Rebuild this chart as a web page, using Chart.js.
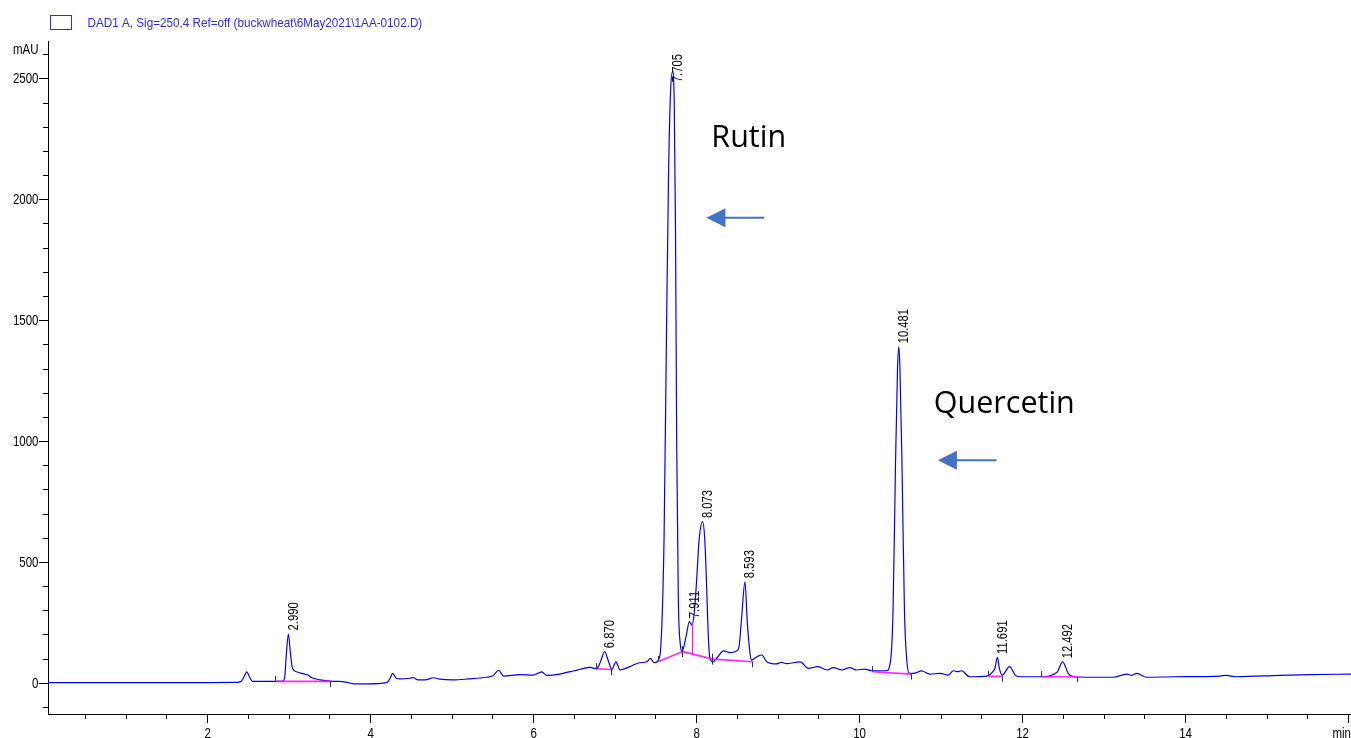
<!DOCTYPE html>
<html>
<head>
<meta charset="utf-8">
<script src="https://cdn.jsdelivr.net/npm/chart.js@4.4.0/dist/chart.umd.min.js"></script>
<style>
html,body{margin:0;padding:0;background:#fff;overflow:hidden}
#wrap{width:1351px;height:738px;position:relative}
</style>
</head>
<body>
<div id="wrap"><canvas id="c" width="1351" height="738"></canvas></div>
<script>
// ---- chromatogram trace (time in min, signal in mAU) ----
const times = [0.04,1.0,2.0,2.35,2.41,2.45,2.48,2.51,2.55,2.72,2.92,2.945,2.965,2.99,3.015,3.04,3.09,3.14,3.19,3.23,3.28,3.38,3.54,3.62,3.71,3.79,3.95,
  4.20,4.24,4.27,4.31,4.36,4.48,4.52,4.58,4.67,4.77,4.85,5.01,5.20,5.42,5.50,5.57,5.63,5.83,5.99,6.10,6.16,6.32,6.42,6.50,6.57,6.69,6.77,6.82,6.87,6.92,6.96,
  7.01,7.06,7.18,7.30,7.39,7.43,7.48,7.53,7.56,7.60,7.63,7.655,7.68,7.705,7.725,7.74,7.755,7.775,7.80,7.82,7.87,7.911,7.94,7.97,8.00,8.03,8.073,8.10,8.12,8.14,8.16,
  8.20,8.26,8.33,8.41,8.49,8.52,8.55,8.593,8.62,8.65,8.67,8.74,8.80,8.86,8.98,9.04,9.10,9.27,9.37,9.49,9.60,9.68,9.78,9.88,9.96,10.06,10.15,10.33,10.38,10.41,10.44,
  10.465,10.481,10.495,10.52,10.55,10.58,10.61,10.66,10.76,10.86,10.99,11.09,11.15,11.21,11.25,11.35,11.56,11.64,11.66,11.691,11.715,11.75,11.84,11.91,11.97,
  12.21,12.42,12.492,12.56,12.62,12.87,13.11,13.28,13.34,13.40,13.52,13.85,14.42,14.50,14.62,15.16,15.53,16.03];
const mAU = [3,3,3,4,8,30,47,28,8,8,8,25,120,204,125,62,48,42,38,34,23,14,8,8,4,-2,-2,
  3,22,41,22,18,21,24,14,14,23,17,14,18,25,31,54,30,36,34,47,33,38,46,52,58,66,60,89,131,89,58,
  89,55,69,85,89,103,85,96,151,600,1450,2100,2450,2530,2400,1900,1000,350,160,131,193,255,241,290,427,593,669,593,427,220,110,
  89,110,134,127,134,151,262,420,262,138,96,110,117,89,80,87,81,89,62,69,55,65,55,65,55,59,52,52,95,300,900,
  1300,1392,1300,900,300,90,41,41,51,38,41,34,52,48,52,27,30,50,62,107,62,34,69,34,27,
  27,45,89,41,27,25,25,38,33,41,25,27,30,33,27,33,36,38];

// ---- peak annotations ----
const peakLabels = ['2.990','6.870','7.705','7.911','8.073','8.593','10.481','11.691','12.492'];
const peakTimes = [2.990,6.870,7.705,7.911,8.073,8.593,10.481,11.691,12.492];
const peakHeights = [204,131,2530,255,669,420,1392,107,89];

// ---- integration baselines ----
const baselineTimes = [[2.83,3.51],[6.77,6.96],[7.53,7.83,8.20,8.69],[10.16,10.64],[11.58,11.75],[12.23,12.67]];
const baselineValues = [[8,8],[60,57],[90,131,100,89],[48,38],[29,29],[27,27]];
const dropTimes = [7.95,7.95];
const dropValues = [120,240];
const eventTimes = [2.83,3.51,6.77,6.96,7.53,7.83,8.20,8.69,10.16,10.64,11.58,11.75,12.23,12.67];
const eventValues = [8,8,60,57,90,131,100,89,48,38,29,29,27,27];
const eventDirs = ['up','down','up','down','up','both','both','down','up','down','up','down','up','down'];

// ---- axes ----
const xTickValues = [0.5,1,1.5,2,2.5,3,3.5,4,4.5,5,5.5,6,6.5,7,7.5,8,8.5,9,9.5,10,10.5,11,11.5,12,12.5,13,13.5,14,14.5,15,15.5,16];
const xLabelValues = [2,4,6,8,10,12,14];
const xUnitValue = 16, xUnitLabel = 'min';
const yTickValues = [-100,0,100,200,300,400,500,600,700,800,900,1000,1100,1200,1300,1400,1500,1600,1700,1800,1900,2000,2100,2200,2300,2400,2500,2600];
const yLabelValues = [0,500,1000,1500,2000,2500];
const yUnitValue = 2600, yUnitLabel = 'mAU';

// ---- legend & notes ----
const seriesName = 'DAD1 A, Sig=250,4 Ref=off (buckwheat\\6May2021\\1AA-0102.D)';
const noteTexts = ['Rutin','Quercetin'];
const noteTimes = [8.18,10.91];
const noteValues = [2217,1119];
const arrowTipTimes = [8.12,10.96];
const arrowTailTimes = [8.83,11.68];
const arrowValues = [1926,923];

const FAM = '"Liberation Sans", Arial, sans-serif';
function drawText(ctx, text, x, y, o) {
  o = o || {};
  ctx.save();
  ctx.translate(x, y);
  if (o.rotate) ctx.rotate(o.rotate);
  ctx.scale(o.sx || 0.82, 1);
  ctx.font = (o.size || 14) + 'px ' + (o.family || FAM);
  ctx.fillStyle = o.color || '#000';
  ctx.textAlign = o.align || 'left';
  ctx.textBaseline = o.baseline || 'alphabetic';
  ctx.fillText(text, 0, o.dy || 0);
  ctx.restore();
}
function textWidth(ctx, text, size, sx) {
  ctx.save(); ctx.font = size + 'px ' + FAM; const w = ctx.measureText(text).width; ctx.restore();
  return w * sx;
}

const overlay = {
  id: 'overlay',
  afterDraw(chart) {
    const ctx = chart.ctx, xs = chart.scales.x, ys = chart.scales.y, a = chart.chartArea;
    const X = v => xs.getPixelForValue(v), Y = v => ys.getPixelForValue(v);
    ctx.save();
    // longer major ticks
    ctx.strokeStyle = '#000'; ctx.lineWidth = 1;
    ctx.beginPath();
    xLabelValues.concat([xUnitValue]).forEach(v => { const px = Math.round(X(v) - 0.5) + 0.5; ctx.moveTo(px, a.bottom); ctx.lineTo(px, a.bottom + 9); });
    yLabelValues.forEach(v => { const py = Math.round(Y(v) - 0.5) + 0.5; ctx.moveTo(a.left, py); ctx.lineTo(a.left - 9, py); });
    ctx.stroke();
    // axis labels
    xLabelValues.forEach(v => drawText(ctx, String(v), X(v), 738, {align: 'center'}));
    drawText(ctx, xUnitLabel, 1351, 738, {align: 'right'});
    yLabelValues.forEach(v => drawText(ctx, String(v), 38.5, Y(v) + 0.5, {align: 'right', baseline: 'middle'}));
    drawText(ctx, yUnitLabel, 38.5, Y(yUnitValue) - 4.5, {align: 'right', baseline: 'middle'});
    // legend
    ctx.strokeStyle = '#2b2bff'; ctx.lineWidth = 1;
    ctx.strokeRect(50.5, 15.5, 21, 14);
    drawText(ctx, seriesName, 87.5, 26.7, {color: '#2b2bff', sx: 0.9, size: 13});
    // integration event ticks
    ctx.strokeStyle = '#333'; ctx.lineWidth = 1;
    ctx.beginPath();
    eventTimes.forEach((t, i) => {
      const px = Math.round(X(t) - 0.5) + 0.5, py = Y(eventValues[i]);
      const d = eventDirs[i];
      const y1 = (d === 'down') ? py : py - 5.5;
      const y2 = (d === 'up') ? py : py + 5.5;
      ctx.moveTo(px, y1); ctx.lineTo(px, y2);
    });
    ctx.stroke();
    // peak labels
    const size = 15, sx = 0.75, cap = 0.716 * size;
    peakLabels.forEach((lab, i) => {
      const px = X(peakTimes[i]) - 1.5;
      let by = Y(peakHeights[i]) - 3.5;
      const len = textWidth(ctx, lab, size, sx);
      if (by - len < a.top + 13) by = a.top + 13 + len;
      drawText(ctx, lab, px, by, {rotate: -Math.PI / 2, sx: sx, size: size, dy: cap});
    });
    // notes
    noteTexts.forEach((t, i) => {
      ctx.save();
      ctx.font = '30.5px "Open Sans", "Noto Sans", sans-serif';
      ctx.fillStyle = '#000'; ctx.textAlign = 'left'; ctx.textBaseline = 'alphabetic';
      ctx.fillText(t, X(noteTimes[i]), Y(noteValues[i]));
      ctx.restore();
    });
    // arrows
    ctx.strokeStyle = '#4472c4'; ctx.fillStyle = '#4472c4'; ctx.lineWidth = 2;
    arrowTipTimes.forEach((t, i) => {
      const tip = X(t), tail = X(arrowTailTimes[i]), y = Y(arrowValues[i]);
      const head = 19, half = 9.5;
      ctx.beginPath(); ctx.moveTo(tip + head - 1, y); ctx.lineTo(tail, y); ctx.stroke();
      ctx.beginPath(); ctx.moveTo(tip, y); ctx.lineTo(tip + head, y - half); ctx.lineTo(tip + head, y + half); ctx.closePath(); ctx.fill();
    });
    ctx.restore();
  }
};

const baselineSets = baselineTimes.map((ts, k) => ({
  data: ts.map((t, i) => ({x: t, y: baselineValues[k][i]})),
  borderColor: 'rgba(255,0,255,0.85)', borderWidth: 1.6, pointRadius: 0, tension: 0, fill: false
}));
const dropSet = {
  data: dropTimes.map((t, i) => ({x: t, y: dropValues[i]})),
  borderColor: 'rgba(255,0,255,0.9)', borderWidth: 1.3, pointRadius: 0, tension: 0, fill: false
};
const traceSet = {
  data: times.map((t, i) => ({x: t, y: mAU[i]})),
  borderColor: '#0000ff', borderWidth: 1.2, pointRadius: 0, fill: false,
  cubicInterpolationMode: 'monotone'
};

new Chart(document.getElementById('c').getContext('2d'), {
  type: 'line',
  data: {datasets: baselineSets.concat([dropSet, traceSet])},
  options: {
    responsive: false, animation: false, events: [], devicePixelRatio: 1,
    layout: {padding: {top: 41, right: 0, bottom: 0, left: 0}},
    plugins: {legend: {display: false}, tooltip: {enabled: false}},
    scales: {
      x: {
        type: 'linear', min: 0.04, max: 16.03,
        afterBuildTicks: s => { s.ticks = xTickValues.map(v => ({value: v})); },
        afterFit: s => { s.height = 24; },
        ticks: {display: false},
        grid: {drawOnChartArea: false, drawTicks: true, tickLength: 5, tickColor: '#000', tickWidth: 1},
        border: {display: true, color: '#000', width: 1}
      },
      y: {
        type: 'linear', min: -127, max: 2657,
        afterBuildTicks: s => { s.ticks = yTickValues.map(v => ({value: v})); },
        afterFit: s => { s.width = 48; },
        ticks: {display: false},
        grid: {drawOnChartArea: false, drawTicks: true, tickLength: 5, tickColor: '#000', tickWidth: 1},
        border: {display: true, color: '#000', width: 1}
      }
    }
  },
  plugins: [overlay]
});
</script>
</body>
</html>
